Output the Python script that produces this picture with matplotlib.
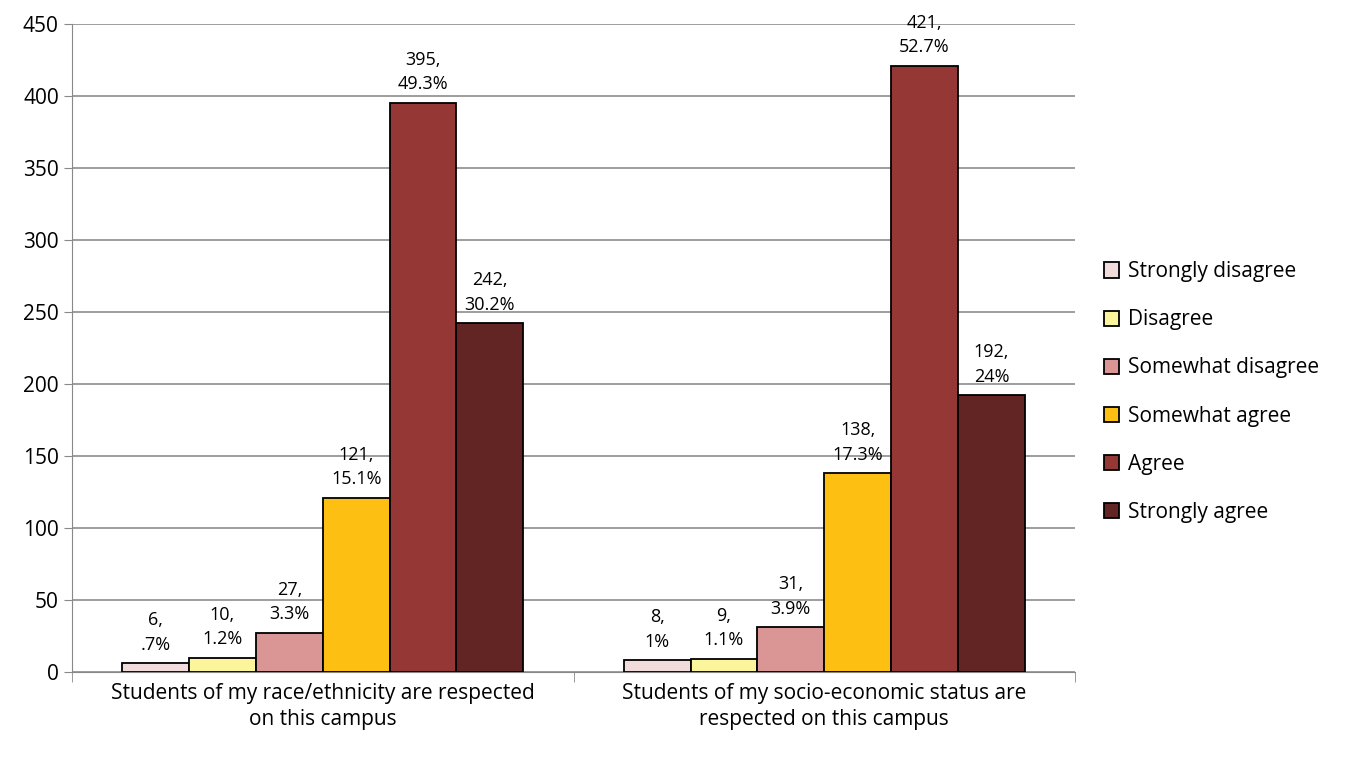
import numpy as np
import matplotlib.pyplot as plt

# dades
categories = ["Students of my race/ethnicity are respected\non this campus",
              "Students of my socio-economic status are\nrespected on this campus"]
responses = ["Strongly disagree", "Disagree", "Somewhat disagree",
             "Somewhat agree", "Agree", "Strongly agree"]
counts = [[6, 8], [10, 9], [27, 31], [121, 138], [395, 421], [242, 192]]
pct_labels = [[".7%", "1%"], ["1.2%", "1.1%"], ["3.3%", "3.9%"],
              ["15.1%", "17.3%"], ["49.3%", "52.7%"], ["30.2%", "24%"]]
colors = ["#F2DCDB", "#FCF59C", "#D99694", "#FDBF12", "#953735", "#632523"]

plt.rcParams['font.family'] = ['Open Sans', 'DejaVu Sans']

fig = plt.figure(figsize=(13.56, 7.61), dpi=100)
ax = fig.add_axes([0.0531, 0.117, 0.7397, 0.8515])

x = np.arange(len(categories))
w = 0.8 / len(responses)

for i, resp in enumerate(responses):
    pos = x - 0.4 + w * (i + 0.5)
    bars = ax.bar(pos, counts[i], width=w, color=colors[i],
                  edgecolor='black', linewidth=1.3, label=resp, zorder=3)
    for b, c, p in zip(bars, counts[i], pct_labels[i]):
        ax.annotate(f"{c},\n{p}", (b.get_x() + b.get_width() / 2, b.get_height()),
                    xytext=(0, 7), textcoords='offset points',
                    ha='center', va='bottom', fontsize=13, linespacing=1.45)

ax.set_xlim(-0.5, 1.5)
ax.set_ylim(0, 450)
ax.set_yticks(np.arange(0, 451, 50))
ax.set_xticks(x)
ax.set_xticklabels(categories, fontsize=15, linespacing=1.3)
ax.set_xticks([-0.5, 0.5, 1.5], minor=True)
ax.tick_params(axis='x', which='major', length=0, pad=8)
ax.tick_params(axis='x', which='minor', length=7, color='#888888')
ax.tick_params(axis='y', labelsize=15, length=6, color='#888888')

ax.yaxis.grid(True, color='#8c8c8c', linewidth=1.2, zorder=0)
ax.spines['top'].set_visible(False)
ax.spines['right'].set_visible(False)
ax.spines['left'].set_color('#888888')
ax.spines['bottom'].set_color('#888888')

ax.legend(loc='center left', bbox_to_anchor=(1.01, 0.432), frameon=False,
          fontsize=15, handlelength=0.75, handleheight=0.75, labelspacing=1.3,
          handletextpad=0.4)

plt.savefig("out.png", dpi=100)
